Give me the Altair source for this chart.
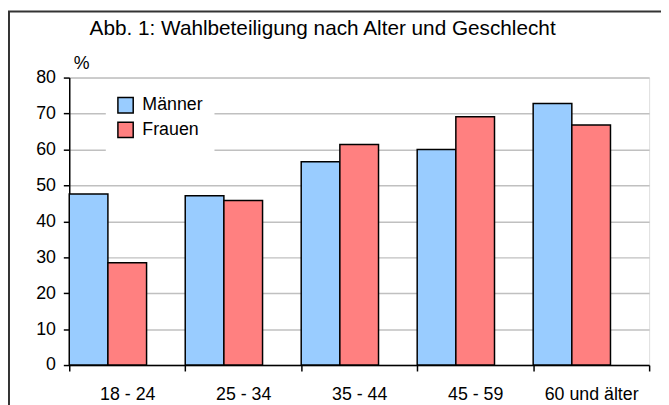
import altair as alt
import pandas as pd

categories = ["18 - 24", "25 - 34", "35 - 44", "45 - 59", "60 und älter"]
maenner = [47.6, 47.1, 56.6, 60.0, 72.8]
frauen = [28.5, 45.8, 61.4, 69.1, 66.8]
series = ["Männer", "Frauen"]
colors = ["#99ccff", "#ff8080"]
y_ticks = [0, 10, 20, 30, 40, 50, 60, 70, 80]

rows = []
for c, m, f in zip(categories, maenner, frauen):
    rows.append({"Alter": c, "Geschlecht": "Männer", "Wert": m})
    rows.append({"Alter": c, "Geschlecht": "Frauen", "Wert": f})
df = pd.DataFrame(rows)

FONT = "Liberation Sans"
W, H = 587, 291

bars = alt.Chart(df).mark_bar(stroke="black", strokeWidth=1.5).encode(
    x=alt.X("Alter:N", sort=categories,
            scale=alt.Scale(paddingInner=0, paddingOuter=0),
            axis=alt.Axis(title=None, labelAngle=0, tickBand="extent",
                          labelFont=FONT, labelFontSize=18, labelColor="black",
                          domainColor="black", domainWidth=1.5,
                          tickColor="black", tickSize=6, tickWidth=1.5,
                          labelPadding=15, grid=False)),
    xOffset=alt.XOffset("Geschlecht:N",
                        scale=alt.Scale(domain=["Männer", "Frauen", "_"],
                                        paddingInner=0, paddingOuter=0)),
    y=alt.Y("Wert:Q",
            scale=alt.Scale(domain=[0, 80], nice=False),
            axis=alt.Axis(values=y_ticks, title="%", titleAngle=0,
                          titleX=4, titleY=-9, titleAlign="left",
                          titleBaseline="alphabetic", titleFont=FONT,
                          titleFontSize=18, titleFontWeight="normal",
                          titleColor="black",
                          labelFont=FONT, labelFontSize=18, labelColor="black",
                          labelPadding=8,
                          domainColor="black", domainWidth=1.5,
                          tickColor="black", tickSize=6, tickWidth=1.5,
                          grid=True, gridColor="#c0c0c0", gridWidth=1.5)),
    color=alt.Color("Geschlecht:N",
                    scale=alt.Scale(domain=series, range=colors),
                    legend=alt.Legend(title=None, orient="none",
                                      legendX=37, legendY=8,
                                      fillColor="white", padding=11,
                                      symbolType="square", symbolSize=240,
                                      symbolStrokeColor="black",
                                      symbolStrokeWidth=1.5,
                                      symbolOpacity=1,
                                      labelFont=FONT, labelFontSize=18,
                                      labelColor="black", labelOffset=8,
                                      rowPadding=3)),
)

frame = alt.Chart(pd.DataFrame({"a": [0]})).mark_rect(
    fill=None, stroke="#333333", strokeWidth=2, clip=False
).encode(
    x=alt.value(-61), x2=alt.value(W + 40),
    y=alt.value(-67), y2=alt.value(H + 60),
)

chart = alt.layer(bars, frame).properties(
    width=W, height=H,
    title=alt.TitleParams(
        "Abb. 1: Wahlbeteiligung nach Alter und Geschlecht",
        font=FONT, fontSize=21, fontWeight="normal", color="black",
        anchor="middle", frame="group", dx=-37, baseline="alphabetic",
        offset=-46),
    padding={"left": 62, "top": 68, "right": 12, "bottom": 38},
    autosize=alt.AutoSizeParams(type="none"),
).configure_view(stroke="#808080", strokeWidth=1.5).configure(background="white")

chart.save("out.html", embed_options={"renderer": "svg", "actions": False})
